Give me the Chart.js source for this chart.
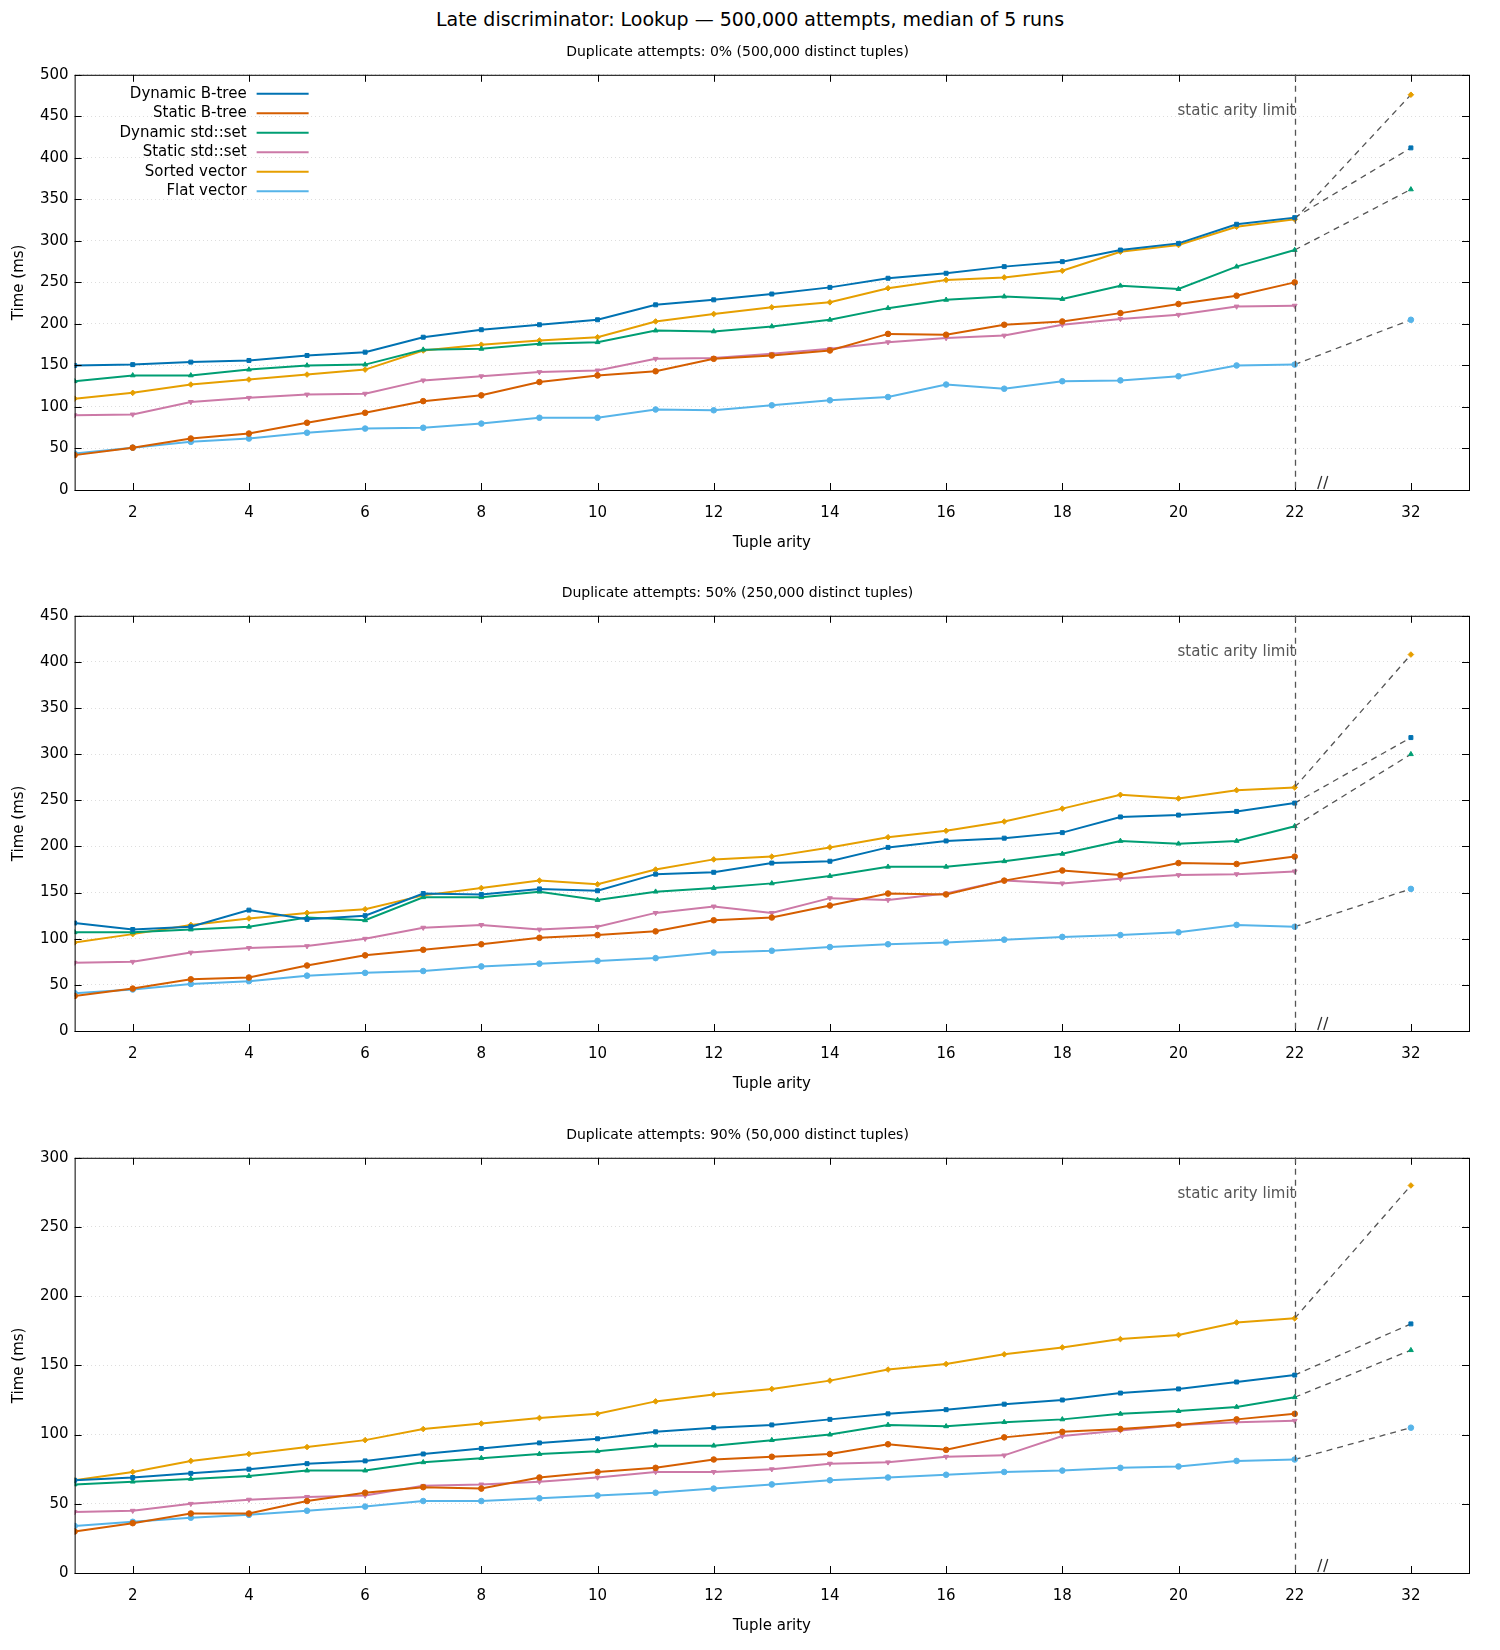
<!DOCTYPE html>
<html><head><meta charset="utf-8">
<script src="https://cdn.jsdelivr.net/npm/chart.js@4"></script>
<style>
body{margin:0;background:#fff;width:1500px;height:1650px;position:relative;font-family:"DejaVu Sans",sans-serif;}
#title{position:absolute;top:8px;left:0;width:1500px;text-align:center;font-size:19px;color:#000;}
.p{position:absolute;left:0;width:1500px;height:520px;}
</style></head><body>
<div id="title">Late discriminator: Lookup — 500,000 attempts, median of 5 runs</div>
<div class="p" style="top:40px"><canvas id="c0"></canvas></div>
<div class="p" style="top:581px"><canvas id="c1"></canvas></div>
<div class="p" style="top:1123px"><canvas id="c2"></canvas></div>
<script>
const arities = [1,2,3,4,5,6,7,8,9,10,11,12,13,14,15,16,17,18,19,20,21,22];
const farArity = 32;
const seriesNames = ["Dynamic B-tree","Static B-tree","Dynamic std::set","Static std::set","Sorted vector","Flat vector"];
const subtitles = ["Duplicate attempts: 0% (500,000 distinct tuples)","Duplicate attempts: 50% (250,000 distinct tuples)","Duplicate attempts: 90% (50,000 distinct tuples)"];
const yMax = [500,450,300];
const yStep = [50,50,50];
// panel 0%
const p0_dynBtree = [150,151,154,156,162,166,184,193,199,205,223,229,236,244,255,261,269,275,289,297,320,328];
const p0_statBtree = [42,51,62,68,81,93,107,114,130,138,143,158,162,168,188,187,199,203,213,224,234,250];
const p0_dynSet = [131,138,138,145,150,151,169,170,176,178,192,191,197,205,219,229,233,230,246,242,269,289];
const p0_statSet = [90,91,106,111,115,116,132,137,142,144,158,159,164,170,178,183,186,199,206,211,221,222];
const p0_sorted = [110,117,127,133,139,145,168,175,180,184,203,212,220,226,243,253,256,264,287,295,317,326];
const p0_flat = [44,51,58,62,69,74,75,80,87,87,97,96,102,108,112,127,122,131,132,137,150,151];
const p0_at32 = [412,null,362,null,476,205];
// panel 50%
const p1_dynBtree = [117,110,113,131,121,125,149,148,154,152,170,172,182,184,199,206,209,215,232,234,238,247];
const p1_statBtree = [38,46,56,58,71,82,88,94,101,104,108,120,123,136,149,148,163,174,169,182,181,189];
const p1_dynSet = [107,107,110,113,123,120,145,145,151,142,151,155,160,168,178,178,184,192,206,203,206,222];
const p1_statSet = [74,75,85,90,92,100,112,115,110,113,128,135,128,144,142,149,163,160,165,169,170,173];
const p1_sorted = [96,105,115,122,128,132,147,155,163,159,175,186,189,199,210,217,227,241,256,252,261,264];
const p1_flat = [41,45,51,54,60,63,65,70,73,76,79,85,87,91,94,96,99,102,104,107,115,113];
const p1_at32 = [318,null,300,null,408,154];
// panel 90%
const p2_dynBtree = [67,69,72,75,79,81,86,90,94,97,102,105,107,111,115,118,122,125,130,133,138,143];
const p2_statBtree = [30,36,43,43,52,58,62,61,69,73,76,82,84,86,93,89,98,102,104,107,111,115];
const p2_dynSet = [64,66,68,70,74,74,80,83,86,88,92,92,96,100,107,106,109,111,115,117,120,127];
const p2_statSet = [44,45,50,53,55,56,63,64,66,69,73,73,75,79,80,84,85,99,103,107,109,110];
const p2_sorted = [67,73,81,86,91,96,104,108,112,115,124,129,133,139,147,151,158,163,169,172,181,184];
const p2_flat = [34,37,40,42,45,48,52,52,54,56,58,61,64,67,69,71,73,74,76,77,81,82];
const p2_at32 = [180,null,161,null,280,105];

const panels = [
 {series:[p0_dynBtree,p0_statBtree,p0_dynSet,p0_statSet,p0_sorted,p0_flat], far:p0_at32},
 {series:[p1_dynBtree,p1_statBtree,p1_dynSet,p1_statSet,p1_sorted,p1_flat], far:p1_at32},
 {series:[p2_dynBtree,p2_statBtree,p2_dynSet,p2_statSet,p2_sorted,p2_flat], far:p2_at32}
];
const colors = ["#0072B2","#D55E00","#009E73","#CC79A7","#E69F00","#56B4E9"];
const styles = ["rect","circle","triangle","triangle","rectRot","circle"];
const rots = [0,0,0,180,0,0];
const FARPOS = 24; // axis position used for arity 32
const FONT = "'DejaVu Sans', sans-serif";

const deco = {
 id:'deco',
 afterDraw(chart){
  const {ctx, chartArea:a, scales:{x,y}} = chart;
  ctx.save();
  ctx.strokeStyle='#000'; ctx.lineWidth=1;
  ctx.strokeRect(a.left+0.5,a.top+0.5,a.right-a.left,a.bottom-a.top);
  // mirrored ticks
  ctx.beginPath();
  y.ticks.forEach(t=>{const py=Math.round(y.getPixelForValue(t.value))+0.5; ctx.moveTo(a.left,py);ctx.lineTo(a.left+7,py);ctx.moveTo(a.right,py);ctx.lineTo(a.right-7,py);});
  x.ticks.forEach(t=>{const px=Math.round(x.getPixelForValue(t.value))+0.5; ctx.moveTo(px,a.bottom);ctx.lineTo(px,a.bottom-7);ctx.moveTo(px,a.top);ctx.lineTo(px,a.top+7);});
  ctx.stroke();
  // vertical limit line
  const lx = Math.round(x.getPixelForValue(22))+0.5;
  ctx.strokeStyle='#555'; ctx.setLineDash([6,5]); ctx.lineWidth=1.3;
  ctx.beginPath(); ctx.moveTo(lx,a.top); ctx.lineTo(lx,a.bottom); ctx.stroke();
  ctx.setLineDash([]);
  ctx.fillStyle='#555'; ctx.font="15px "+FONT; ctx.textAlign='right'; ctx.textBaseline='middle';
  ctx.fillText('static arity limit', lx, a.top+36);
  // break mark
  const bx = x.getPixelForValue(22.5);
  ctx.strokeStyle='#333'; ctx.lineWidth=1.3;
  ctx.beginPath(); ctx.moveTo(bx-6,a.bottom-1); ctx.lineTo(bx-2,a.bottom-14); ctx.moveTo(bx,a.bottom-1); ctx.lineTo(bx+4,a.bottom-14); ctx.stroke();
  // legend (first panel)
  if(chart.options.plugins.deco.legend){
   ctx.font="15px "+FONT; ctx.textAlign='right'; ctx.textBaseline='middle';
   seriesNames.forEach((n,i)=>{
    const ly=a.top+19+i*19.5, tx=a.left+172;
    ctx.fillStyle='#000'; ctx.fillText(n,tx,ly);
    ctx.strokeStyle=colors[i]; ctx.lineWidth=2;
    ctx.beginPath(); ctx.moveTo(tx+10,ly); ctx.lineTo(tx+62,ly); ctx.stroke();
   });
  }
  ctx.restore();
 }
};

panels.forEach((p,pi)=>{
 const datasets=[];
 p.series.forEach((s,i)=>{
  datasets.push({data:arities.map((a,k)=>({x:a,y:s[k]})),borderColor:colors[i],backgroundColor:colors[i],borderWidth:2,
   pointStyle:styles[i],rotation:rots[i],pointRadius:2.8,pointBorderWidth:1,tension:0,order:1});
 });
 p.series.forEach((s,i)=>{
  const f=p.far[i]; if(f==null) return;
  datasets.push({data:[{x:22,y:s[s.length-1]},{x:FARPOS,y:f}],borderColor:'#555',borderDash:[6,5],borderWidth:1.3,pointRadius:0,order:2});
  datasets.push({data:[{x:FARPOS,y:f}],showLine:false,borderColor:colors[i],backgroundColor:colors[i],pointStyle:styles[i],rotation:rots[i],pointRadius:2.8,order:0});
 });
 new Chart(document.getElementById('c'+pi),{
  type:'line',
  data:{datasets},
  options:{
   responsive:true,maintainAspectRatio:false,animation:false,
   layout:{padding:{left:6,right:31,top:0,bottom:4}},
   plugins:{legend:{display:false},tooltip:{enabled:false},
    title:{display:true,text:subtitles[pi],font:{family:FONT,size:14,weight:'normal'},color:'#000',padding:{top:4,bottom:14}},
    deco:{legend:pi===0}},
   scales:{
    x:{type:'linear',min:1,max:25,
     afterBuildTicks(sc){sc.ticks=[2,4,6,8,10,12,14,16,18,20,22,FARPOS].map(v=>({value:v}));},
     ticks:{callback:v=>v===FARPOS?String(farArity):String(v),color:'#000',font:{family:FONT,size:15},autoSkip:false,maxRotation:0,padding:6},
     grid:{display:false},border:{display:false},
     title:{display:true,text:'Tuple arity',color:'#000',font:{family:FONT,size:15},padding:{top:6}}},
    y:{min:0,max:yMax[pi],ticks:{stepSize:yStep[pi],color:'#000',font:{family:FONT,size:15},padding:6},
     grid:{color:'#ddd',drawTicks:false,lineWidth:1,tickBorderDash:[1,3]},border:{display:false,dash:[1,3]},
     title:{display:true,text:'Time (ms)',color:'#000',font:{family:FONT,size:15},padding:{bottom:6}}}
   }
  },
  plugins:[deco]
 });
});
</script>
</body></html>
